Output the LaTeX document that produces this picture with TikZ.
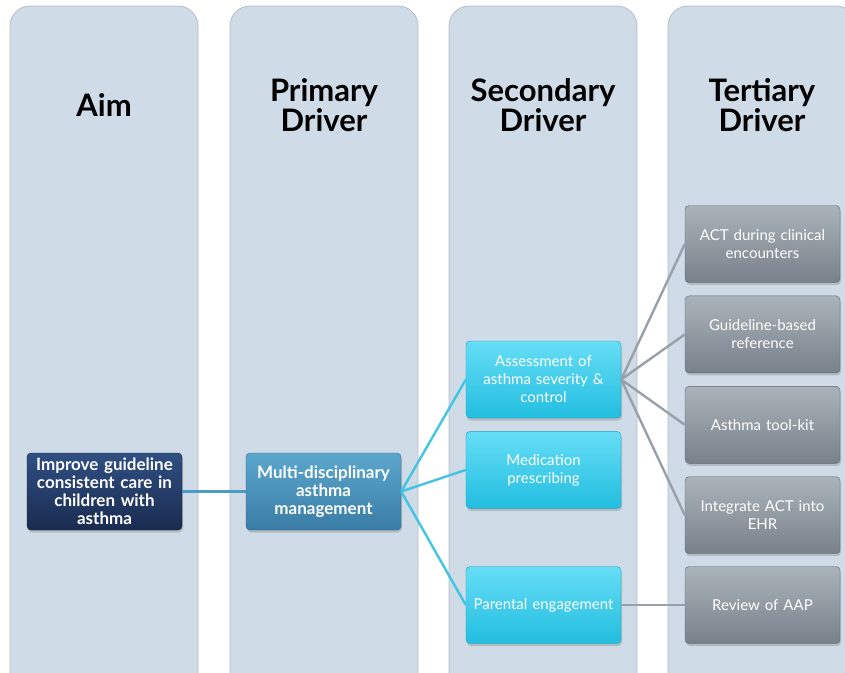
\documentclass[tikz,border=0pt]{standalone}
\usepackage{fontspec}
\setmainfont{Lato}
\usetikzlibrary{positioning, shadows}
\definecolor{lanefill}{HTML}{CFDBE6}
\definecolor{laneedge}{HTML}{B4BEC8}
\definecolor{aimtop}{HTML}{304F82}
\definecolor{aimbottom}{HTML}{1A2B50}
\definecolor{primtop}{HTML}{5CA6CC}
\definecolor{primbottom}{HTML}{3A7DA6}
\definecolor{sectop}{HTML}{66DDF6}
\definecolor{secbottom}{HTML}{22BEE0}
\definecolor{tertop}{HTML}{ABB3BA}
\definecolor{terbottom}{HTML}{78818A}
\definecolor{aimline}{HTML}{4A9CC6}
\definecolor{secline}{HTML}{42C4E4}
\definecolor{terline}{HTML}{98A1A9}

\tikzset{
  lane/.style={fill=lanefill, draw=laneedge, line width=0.8pt, rounded corners=20pt},
  lanetitle/.style={align=center, font=\bfseries\fontsize{31}{30}\selectfont},
  driverbox/.style={rounded corners=4pt, minimum width=155pt, minimum height=77pt,
    text width=152pt, align=center, text=white, inner sep=1.5pt,
    font=\fontsize{15}{18}\selectfont,
    drop shadow={shadow xshift=1pt, shadow yshift=-2.5pt, opacity=0.35}},
  aimbox/.style={driverbox, top color=aimtop, bottom color=aimbottom, draw=aimbottom!70!black,
    font=\bfseries\fontsize{17}{18}\selectfont},
  primbox/.style={driverbox, top color=primtop, bottom color=primbottom, draw=primbottom!80!black,
    font=\bfseries\fontsize{17}{18}\selectfont},
  secbox/.style={driverbox, top color=sectop, bottom color=secbottom, draw=secbottom!85!black},
  terbox/.style={driverbox, top color=tertop, bottom color=terbottom, draw=terbottom!80!black},
  link/.style={line width=2.4pt}
}

\begin{document}
\begin{tikzpicture}[x=1pt, y=-1pt]
  \useasboundingbox (0,0) rectangle (845,672);
  \clip (0,0) rectangle (845,672);

  % swim lanes and headings
  \foreach \lx/\ltitle [count=\li] in {10/Aim, 230/{Primary\\Driver}, 449/{Secondary\\Driver}, 668/{Tertiary\\Driver}} {
    \draw[lane] (\lx,6) rectangle ++(188,720);
    \node[lanetitle] (title\li) at (\lx+94,105) {\ltitle};
  }

  % aim and primary driver
  \node[aimbox] (aim) at (104.5,491.5) {Improve guideline\\consistent care in\\children with\\asthma};
  \node[primbox] (prim) at (323.5,491.5) {Multi-disciplinary\\asthma\\management};

  % secondary drivers
  \node[secbox] (assess) at (543.5,379.5) {Assessment of\\asthma severity \&\\control};
  \node[secbox, below=13pt of assess] (medic) {Medication\\prescribing};
  \node[secbox] (parent) at (543.5,605) {Parental engagement};

  % tertiary drivers
  \node[terbox] (act) at (762.5,244) {ACT during clinical\\encounters};
  \node[terbox, below=13pt of act] (guide) {Guideline-based\\reference};
  \node[terbox, below=13pt of guide] (toolkit) {Asthma tool-kit};
  \node[terbox, below=13pt of toolkit] (ehr) {Integrate ACT into\\EHR};
  \node[terbox] (aap) at (762.5,605) {Review of AAP};

  % connectors
  \draw[link, aimline] (aim.east) -- (prim.west);
  \foreach \sec in {assess, medic, parent}
    \draw[link, secline] (prim.east) -- (\sec.west);
  \foreach \ter in {act, guide, toolkit, ehr}
    \draw[link, terline] (assess.east) -- (\ter.west);
  \draw[link, terline] (parent.east) -- (aap.west);
\end{tikzpicture}
\end{document}
